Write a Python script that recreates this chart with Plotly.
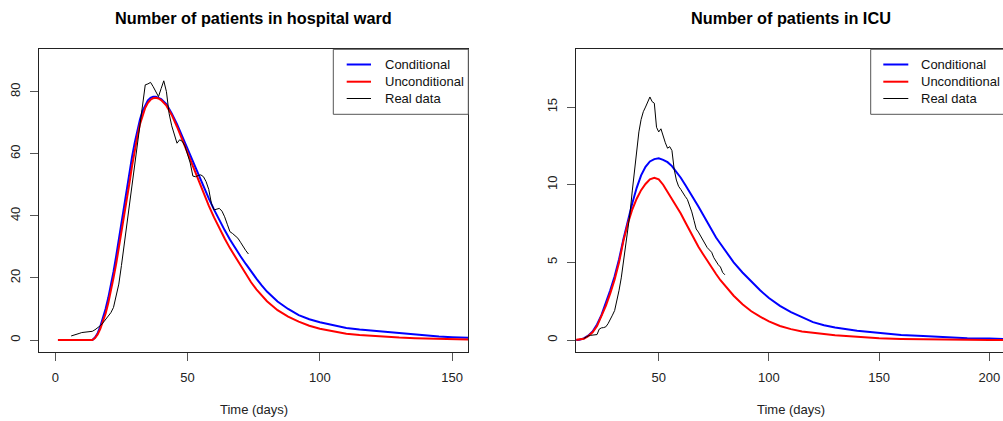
import plotly.graph_objects as go

# ---------------- Data ----------------
# Hospital ward
ward_model_days = [1, 14, 15, 16, 17, 18, 19, 20, 21, 22, 23, 24, 25, 26, 27, 28, 29, 30, 31, 32,
                   33, 34, 35, 36, 37, 38, 39, 40, 42, 44, 46, 48, 50, 52, 54, 56, 58, 60, 62, 64,
                   66, 68, 70, 72, 74, 76, 78, 80, 84, 88, 92, 96, 100, 105, 110, 115, 120, 125,
                   130, 136, 145, 150, 156]
ward_conditional = [0, 0, 0.8, 2.2, 4.3, 7, 10, 13.5, 17.5, 22, 27, 32.5, 38, 43.5, 49, 54, 59, 63.5,
                    67.5, 71, 73.8, 75.8, 77.2, 78, 78.4, 78.4, 78.1, 77.6, 76, 73, 69.5, 65.5, 61.3,
                    57.2, 53.3, 49.5, 45.6, 42, 38.6, 35.4, 32.4, 29.6, 27, 24.5, 22, 19.8, 17.6,
                    15.6, 12.4, 10, 8, 6.7, 5.7, 4.7, 3.9, 3.4, 3.0, 2.6, 2.2, 1.6, 1.1, 0.9, 0.75]
ward_unconditional = [0, 0, 0.6, 1.8, 3.6, 5.8, 8.5, 11.8, 15.5, 20, 24.5, 29.5, 35, 40.5, 45.5, 50.5,
                      56, 61, 65.5, 69.5, 72.5, 74.8, 76.4, 77.4, 77.9, 78, 77.8, 77.3, 75.5, 72.5,
                      68.7, 64.5, 60, 55.5, 51.5, 47.5, 43.3, 39.5, 36, 32.7, 29.6, 26.8, 24, 21.3,
                      18.6, 16.3, 14.3, 12.5, 9.6, 7.5, 5.9, 4.6, 3.6, 2.7, 2.0, 1.6, 1.3, 1.0, 0.8,
                      0.6, 0.35, 0.25, 0.15]
ward_real_days = list(range(6, 74))
ward_real = [1.3, 1.5, 1.8, 2.1, 2.4, 2.5, 2.5, 2.6, 2.8, 3.3, 3.9, 4.6, 5.5, 6.5, 7.5, 8.8, 10.5,
             14, 18, 24, 30.5, 37.5, 44, 51, 58, 64.5, 71, 77, 82.2, 82.5, 83, 81.6, 80, 78.4, 81,
             83.5, 80, 73, 69, 66, 63.4, 64.5, 64, 62.5, 60, 57, 52.8, 52.6, 53, 53.2, 52.6, 51,
             48.5, 44, 41.9, 42.2, 42.4, 41.5, 39.7, 37.3, 34.9, 34.3, 33.6, 32.8, 31.5, 30, 28.8,
             27.7]

# ICU
icu_model_days = [12, 14, 16, 18, 20, 22, 24, 26, 28, 30, 32, 34, 36, 38, 40, 42, 44, 46, 48, 50,
                  52, 54, 56, 58, 60, 62, 64, 66, 68, 70, 72, 74, 76, 78, 80, 84, 88, 92, 96, 100,
                  105, 110, 115, 120, 125, 130, 140, 150, 160, 170, 180, 190, 200, 207]
icu_conditional = [0, 0.02, 0.1, 0.28, 0.55, 1.0, 1.6, 2.35, 3.2, 4.1, 5.2, 6.5, 7.7, 8.8, 9.8, 10.6,
                   11.15, 11.5, 11.65, 11.7, 11.6, 11.45, 11.2, 10.85, 10.45, 10.0, 9.55, 9.05, 8.6,
                   8.1, 7.6, 7.1, 6.6, 6.2, 5.8, 5.0, 4.35, 3.75, 3.2, 2.7, 2.2, 1.8, 1.45, 1.15,
                   0.95, 0.8, 0.6, 0.45, 0.33, 0.25, 0.18, 0.12, 0.09, 0.07]
icu_unconditional = [0, 0.02, 0.08, 0.25, 0.5, 0.9, 1.5, 2.2, 3.0, 3.9, 5.0, 6.4, 7.5, 8.4, 9.1,
                     9.65, 10.05, 10.35, 10.45, 10.35, 10.0, 9.55, 9.1, 8.65, 8.15, 7.6, 7.05, 6.5,
                     6.0, 5.55, 5.1, 4.65, 4.25, 3.85, 3.5, 2.85, 2.3, 1.85, 1.5, 1.2, 0.9, 0.7,
                     0.55, 0.45, 0.38, 0.3, 0.2, 0.12, 0.07, 0.04, 0.03, 0.01, 0.0, 0.0]
icu_real_days = list(range(16, 81))
icu_real = [0.1, 0.2, 0.26, 0.3, 0.32, 0.33, 0.35, 0.7, 0.78, 0.8, 0.85, 1.05, 1.3, 1.6, 1.9, 2.5,
            3.2, 4.0, 5.0, 6.2, 7.2, 8.2, 9.6, 11.0, 12.2, 13.4, 14.2, 14.7, 15.0, 15.3, 15.65,
            15.35, 15.25, 13.7, 13.4, 13.6, 13.1, 12.7, 12.35, 12.45, 12.2, 11.0, 10.3, 9.9, 9.7,
            9.45, 9.25, 9.05, 8.7, 8.25, 7.7, 7.15, 6.95, 6.7, 6.4, 6.2, 5.95, 5.8, 5.65, 5.3,
            5.05, 4.85, 4.7, 4.35, 4.2]

titles = ["Number of patients in hospital ward", "Number of patients in ICU"]
x_title = "Time (days)"
legend_labels = ["Conditional", "Unconditional", "Real data"]
colors = ["#0000FF", "#FF0000", "#000000"]
widths = [2, 2, 1]

ward_xticks = [0, 50, 100, 150]
ward_yticks = [0, 20, 40, 60, 80]
icu_xticks = [50, 100, 150, 200]
icu_yticks = [0, 5, 10, 15]

# ---------------- Layout geometry (pixels) ----------------
W, H = 1003, 421
def px(x):
    return x / W
def py(y):
    return 1 - y / H

FONT = "Liberation Sans, Arial, sans-serif"
fig = go.Figure()

series = [
    (ward_model_days, ward_conditional, ward_model_days, ward_unconditional,
     ward_real_days, ward_real, "x", "y"),
    (icu_model_days, icu_conditional, icu_model_days, icu_unconditional,
     icu_real_days, icu_real, "x2", "y2"),
]
for (dc, vc, du, vu, dr, vr, xa, ya) in series:
    for d, v, c, w in [(dc, vc, colors[0], widths[0]), (du, vu, colors[1], widths[1]),
                       (dr, vr, colors[2], widths[2])]:
        fig.add_trace(go.Scatter(x=d, y=v, mode="lines", xaxis=xa, yaxis=ya,
                                 line=dict(color=c, width=w), showlegend=False,
                                 hoverinfo="skip"))

top, bottom = 49.3, 351.7
axis_common = dict(showgrid=False, zeroline=False, showline=True, linecolor="#222",
                   linewidth=1, ticks="outside", ticklen=8, tickcolor="#555",
                   tickfont=dict(family=FONT, size=13, color="#222"))

fig.update_layout(
    width=W, height=H, margin=dict(l=0, r=0, t=0, b=0),
    paper_bgcolor="white", plot_bgcolor="white", showlegend=False,
    xaxis=dict(domain=[px(39.3), px(468.3)], range=[-6.05, 156.1], tickvals=ward_xticks,
               mirror=True, anchor="y", ticklabelstandoff=6, **axis_common),
    yaxis=dict(domain=[py(bottom), py(top)], range=[-3.77, 93.65], tickvals=ward_yticks,
               mirror=True, anchor="x", tickangle=-90, ticklabelstandoff=5, **axis_common),
    xaxis2=dict(domain=[px(576.3), 1.0], range=[12.6, 206.2], tickvals=icu_xticks,
                mirror=True, anchor="y2", ticklabelstandoff=6, **axis_common),
    yaxis2=dict(domain=[py(bottom), py(top)], range=[-0.753, 18.72], tickvals=icu_yticks,
                mirror=False, anchor="x2", tickangle=-90, ticklabelstandoff=5, **axis_common),
)

annotations = []
shapes = []
panels = [(253.8, 333.3, 346.7, 371.0, 382.7), (790.8, 870.7, 883.3, 908.3, 919.3)]
for i, (cx, box_l, line_l, line_r, text_l) in enumerate(panels):
    annotations.append(dict(text="<b>%s</b>" % titles[i], x=px(cx), y=py(17.5), xref="paper",
                            yref="paper", showarrow=False, xanchor="center", yanchor="middle",
                            font=dict(family=FONT, size=16.3, color="#000")))
    annotations.append(dict(text=x_title, x=px(cx), y=py(409), xref="paper", yref="paper",
                            showarrow=False, xanchor="center", yanchor="middle",
                            font=dict(family=FONT, size=13, color="#222")))
    box_r = 468.3 if i == 0 else 1010
    shapes.append(dict(type="rect", xref="paper", yref="paper", x0=px(box_l), x1=px(box_r),
                       y0=py(114.3), y1=py(top), line=dict(color="#555", width=1),
                       fillcolor="white", layer="above"))
    for k, yy in enumerate([64.5, 81.7, 98.5]):
        shapes.append(dict(type="line", xref="paper", yref="paper", x0=px(line_l), x1=px(line_r),
                           y0=py(yy), y1=py(yy), line=dict(color=colors[k], width=widths[k]),
                           layer="above"))
        annotations.append(dict(text=legend_labels[k], x=px(text_l), y=py(yy), xref="paper",
                                yref="paper", showarrow=False, xanchor="left", yanchor="middle",
                                font=dict(family=FONT, size=13, color="#111")))

fig.update_layout(annotations=annotations, shapes=shapes)
fig.write_html("out.html", config={"displayModeBar": False},
               post_script="document.body.style.margin='0';document.body.style.overflow='hidden';")
